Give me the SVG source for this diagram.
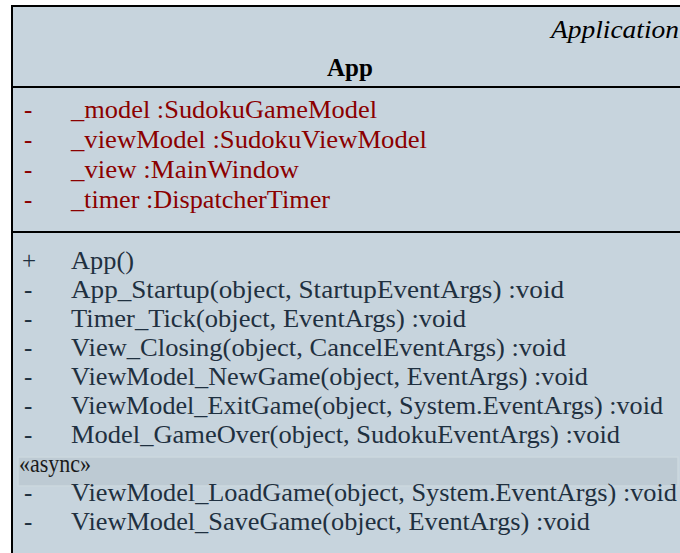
<svg xmlns="http://www.w3.org/2000/svg" width="680" height="553" viewBox="0 0 680 553">
<style>
.t{font-family:"Liberation Serif","Times New Roman",serif;font-size:25px}
.attr{fill:#8b0000}
.meth{fill:#1f3040}
.sep{stroke:#000;stroke-width:2}
</style>
<rect width="680" height="553" fill="#ffffff"/>
<g id="App">
<rect x="12" y="6" width="700" height="600" fill="#c7d4dd" stroke="#000" stroke-width="2"/>
<text class="t" x="551" y="38" font-style="italic" textLength="128" lengthAdjust="spacingAndGlyphs" fill="#000">Application</text>
<text class="t" x="350" y="76" text-anchor="middle" font-weight="bold" font-size="23" fill="#000">App</text>
<line class="sep" x1="12" y1="87" x2="680" y2="87"/>
<g class="t attr">
<text x="24" y="118">-</text><text x="71" y="118" textLength="306" lengthAdjust="spacingAndGlyphs">_model :SudokuGameModel</text>
<text x="24" y="148">-</text><text x="71" y="148" textLength="356" lengthAdjust="spacingAndGlyphs">_viewModel :SudokuViewModel</text>
<text x="24" y="178">-</text><text x="71" y="178" textLength="228" lengthAdjust="spacingAndGlyphs">_view :MainWindow</text>
<text x="24" y="208">-</text><text x="71" y="208" textLength="259" lengthAdjust="spacingAndGlyphs">_timer :DispatcherTimer</text>
</g>
<line class="sep" x1="12" y1="232" x2="680" y2="232"/>
<g class="t meth">
<text x="22" y="269">+</text><text x="71" y="269" textLength="63" lengthAdjust="spacingAndGlyphs">App()</text>
<text x="24" y="298">-</text><text x="71" y="298" textLength="493" lengthAdjust="spacingAndGlyphs">App_Startup(object, StartupEventArgs)  :void</text>
<text x="24" y="327">-</text><text x="71" y="327" textLength="395" lengthAdjust="spacingAndGlyphs">Timer_Tick(object, EventArgs)  :void</text>
<text x="24" y="356">-</text><text x="71" y="356" textLength="495" lengthAdjust="spacingAndGlyphs">View_Closing(object, CancelEventArgs)  :void</text>
<text x="24" y="385">-</text><text x="71" y="385" textLength="517" lengthAdjust="spacingAndGlyphs">ViewModel_NewGame(object, EventArgs)  :void</text>
<text x="24" y="414">-</text><text x="71" y="414" textLength="592" lengthAdjust="spacingAndGlyphs">ViewModel_ExitGame(object, System.EventArgs)  :void</text>
<text x="24" y="443">-</text><text x="71" y="443" textLength="549" lengthAdjust="spacingAndGlyphs">Model_GameOver(object, SudokuEventArgs)  :void</text>
</g>
<rect x="18" y="457" width="660" height="29" fill="#bdcad3" stroke="#ccd7de" stroke-width="1.5"/>
<text class="t" x="19" y="472" font-size="22" textLength="72" lengthAdjust="spacingAndGlyphs" fill="#1a1a1a">«async»</text>
<g class="t meth">
<text x="24" y="501">-</text><text x="71" y="501" textLength="606" lengthAdjust="spacingAndGlyphs">ViewModel_LoadGame(object, System.EventArgs)  :void</text>
<text x="24" y="530">-</text><text x="71" y="530" textLength="519" lengthAdjust="spacingAndGlyphs">ViewModel_SaveGame(object, EventArgs)  :void</text>
</g>
</g>
<g id="connectors"/>
</svg>
